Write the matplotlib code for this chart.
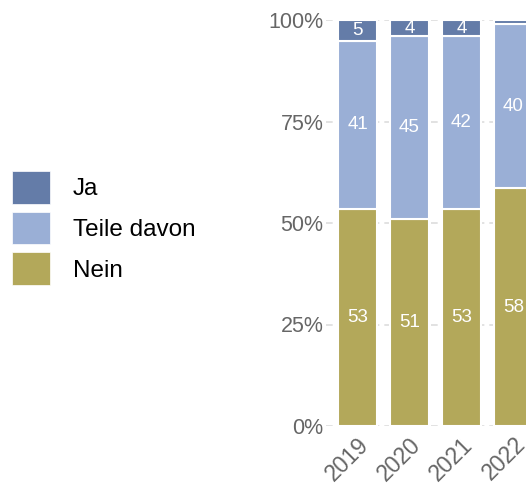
import matplotlib
matplotlib.use("Agg")
import matplotlib.pyplot as plt
import numpy as np
from matplotlib.patches import Patch
from matplotlib.ticker import FuncFormatter

plt.rcParams['font.family'] = ['Liberation Sans', 'DejaVu Sans']

years = ["2019", "2020", "2021", "2022"]
ja = [5, 4, 4, 1]
teile = [41, 45, 42, 40]
nein = [53, 51, 53, 58]
series_names = ["Ja", "Teile davon", "Nein"]
colors = {"Ja": "#647ca8", "Teile davon": "#9aafd6", "Nein": "#b3a85a"}
yticks = [0, 0.25, 0.5, 0.75, 1.0]

W, H = 526, 487
fig = plt.figure(figsize=(W / 100, H / 100), dpi=100)
left_px, right_px = 326.3, 544.7
top_px, bottom_px = 20, 426
ax = fig.add_axes([left_px / W, 1 - bottom_px / H, (right_px - left_px) / W, (bottom_px - top_px) / H])

ja_a, te_a, ne_a = np.array(ja, float), np.array(teile, float), np.array(nein, float)
tot = ja_a + te_a + ne_a
x = np.arange(len(years))
width = 0.75

segs = [("Nein", ne_a), ("Teile davon", te_a), ("Ja", ja_a)]
bottom = np.zeros(len(years))
for name, vals in segs:
    frac = vals / tot
    bars = ax.bar(x, frac, width, bottom=bottom, color=colors[name],
                  edgecolor="white", linewidth=1.5, zorder=3)
    labels = [f"{int(v)}" if v >= 3 else "" for v in vals]
    ax.bar_label(bars, labels=labels, label_type="center", color="white", fontsize=13.5)
    bottom += frac

ax.set_xlim(-0.6, 3.6)
ax.set_ylim(0, 1)
ax.set_yticks(yticks)
ax.yaxis.set_major_formatter(FuncFormatter(lambda v, p: f"{int(round(v * 100))}%"))
ax.grid(axis="y", color="#dddddd", linestyle=(0, (4, 3)), linewidth=1.2, zorder=0)
ax.set_axisbelow(True)
for s in ax.spines.values():
    s.set_visible(False)
ax.tick_params(axis="both", length=0, labelsize=15.5, labelcolor="#666666")
ax.tick_params(axis="x", labelsize=16.5)
ax.tick_params(axis="y", pad=2)
ax.set_xticks(x)
ax.set_xticklabels(years, rotation=45, ha="right", rotation_mode="anchor")
ax.tick_params(axis="x", pad=5)

handles = [Patch(facecolor=colors[n], edgecolor="white", linewidth=0.5, label=n) for n in series_names]
fig.legend(handles=handles, loc="center left", bbox_to_anchor=(0.0, 1 - 228 / H),
           frameon=False, fontsize=17.5, handlelength=1.55, handleheight=1.7,
           handletextpad=0.95, labelspacing=0.33, borderpad=0.3, borderaxespad=0.2)

fig.savefig("out.png", dpi=100)
